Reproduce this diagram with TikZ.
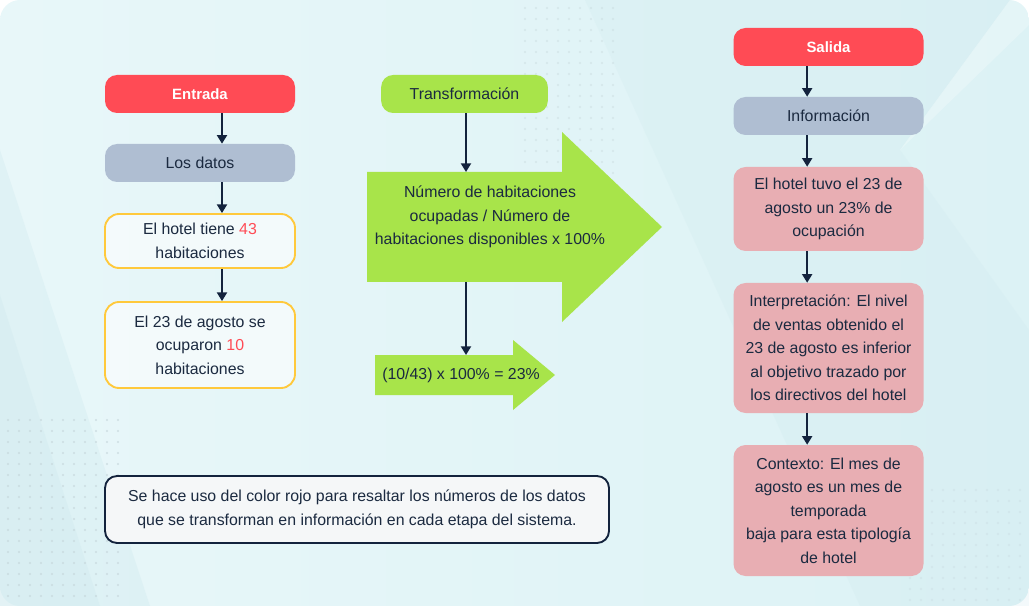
\documentclass[tikz,border=0pt]{standalone}
\usepackage{fontspec}
\setmainfont{Liberation Sans}
\usetikzlibrary{arrows.meta, positioning}

\definecolor{bgleft}{HTML}{E8F7F9}
\definecolor{bgright}{HTML}{DCF2F5}
\definecolor{bgdark}{HTML}{CFE9EE}
\definecolor{dotc}{HTML}{C3D3D8}
\definecolor{redc}{HTML}{FF4B55}
\definecolor{grayc}{HTML}{AFBED2}
\definecolor{greenc}{HTML}{A8E44A}
\definecolor{pinkc}{HTML}{E8AEB3}
\definecolor{yellowc}{HTML}{FFC93C}
\definecolor{textc}{HTML}{1B2A40}
\definecolor{arrowc}{HTML}{13233D}
\definecolor{notefill}{HTML}{F5F7F8}

\begin{document}
\begin{tikzpicture}[
    x=0.75pt, y=-0.75pt,
    font=\fontsize{11.9pt}{17.6pt}\selectfont,
    text=textc,
    arr/.style={-{Triangle[length=6.5pt, width=7.5pt]}, line width=1.5pt, draw=arrowc},
    box/.style={
        rectangle, rounded corners=9pt, align=center,
        minimum width=142.5pt, minimum height=28.5pt, inner sep=2pt
    },
    headbox/.style={box, fill=redc, text=white, font=\fontsize{11.2pt}{17.6pt}\selectfont\bfseries},
    graybox/.style={box, fill=grayc},
    databox/.style={box, draw=yellowc, line width=1.4pt, fill=white, fill opacity=0.55, text opacity=1, rounded corners=10.5pt},
    infobox/.style={box, fill=pinkc},
    notebox/.style={
        rectangle, rounded corners=9pt, draw=arrowc, line width=1.4pt,
        fill=notefill, align=center,
        minimum width=378pt, minimum height=50.25pt
    },
]

    % Fondo
    \useasboundingbox (0,0) rectangle (1029,606);
    \shade[left color=bgleft, right color=bgright, rounded corners=15pt] (0,0) rectangle (1029,606);
    \fill[bgdark, opacity=0.35] (0,150) -- (150,606) -- (0,606) -- cycle;
    \fill[bgdark, opacity=0.35] (0,295) -- (100,606) -- (0,606) -- cycle;
    \fill[bgdark, opacity=0.25] (585,0) -- (1010,0) -- (900,150) -- (1029,330) -- (1029,606) -- (860,606) -- cycle;
    \fill[white, opacity=0.25] (1010,0) -- (1029,0) -- (1029,25) -- (900,150) -- cycle;
    \foreach \i in {0,...,10} {
        \foreach \j in {0,...,16} {
            \fill[dotc, opacity=0.7] (8+11*\i, 420+11*\j) circle (1.2);
        }
    }
    \foreach \i in {0,...,8} {
        \foreach \j in {0,...,15} {
            \fill[dotc, opacity=0.45] (525+11*\i, 8+11*\j) circle (1.1);
        }
    }
    \foreach \i in {0,...,10} {
        \foreach \j in {0,...,10} {
            \fill[dotc, opacity=0.35] (910+11*\i, 490+11*\j) circle (1.1);
        }
    }

    % Entrada
    \node[headbox]                         (entrada) at (200,94)  {Entrada};
    \node[graybox]                         (datos)   at (200,163) {Los datos};
    \node[databox, minimum height=40.5pt]  (hotel)   at (200,241) {El hotel tiene \textcolor{redc}{43}\\habitaciones};
    \node[databox, minimum height=64.5pt]  (ocupa)   at (200,345) {El 23 de agosto se\\ocuparon \textcolor{redc}{10}\\habitaciones};

    \draw[arr] ([xshift=16.5pt] entrada.south) -- ([xshift=16.5pt] datos.north);
    \draw[arr] ([xshift=16.5pt] datos.south)   -- ([xshift=16.5pt] hotel.north);
    \draw[arr] ([xshift=16.5pt] hotel.south)   -- ([xshift=16.5pt] ocupa.north);

    % Transformación
    \node[box, fill=greenc, minimum width=125pt] (transf) at (464.5,94) {Transformación};
    \fill[greenc] (367,172) -- (562,172) -- (562,132) -- (662,227) -- (562,322)
        -- (562,282) -- (367,282) -- cycle;
    \fill[greenc] (375,355) -- (513,355) -- (513,340) -- (555,375) -- (513,410)
        -- (513,395) -- (375,395) -- cycle;
    \node[align=center] (formula) at (490,217)
        {Número de habitaciones\\ocupadas / Número de\\habitaciones disponibles x 100\%};
    \node[anchor=west, inner sep=0pt] (calculo) at (382,375) {(10/43) x 100\% = 23\%};
    \coordinate (bigtop)   at (466,172);
    \coordinate (bigbot)   at (466,282);
    \coordinate (smalltop) at (466,355);

    \draw[arr] (transf.south -| bigtop) -- (bigtop);
    \draw[arr] (bigbot) -- (smalltop);

    % Salida
    \node[headbox]                         (salida)   at (828.5,47)  {Salida};
    \node[graybox]                         (info)     at (828.5,116) {Información};
    \node[infobox, minimum height=63pt]    (tuvo)     at (828.5,209) {El hotel tuvo el 23 de\\agosto un 23\% de\\ocupación};
    \node[infobox, minimum height=97.5pt]  (interp)   at (828.5,348)
        {Interpretación: El nivel\\de ventas obtenido el\\23 de agosto es inferior\\al objetivo trazado por\\los directivos del hotel};
    \node[infobox, minimum height=98.25pt] (contexto) at (828.5,510.5)
        {Contexto: El mes de\\agosto es un mes de\\temporada\\baja para esta tipología\\de hotel};

    \draw[arr] ([xshift=-16pt] salida.south) -- ([xshift=-16pt] info.north);
    \draw[arr] ([xshift=-16pt] info.south)   -- ([xshift=-16pt] tuvo.north);
    \draw[arr] ([xshift=-16pt] tuvo.south)   -- ([xshift=-16pt] interp.north);
    \draw[arr] ([xshift=-16pt] interp.south) -- ([xshift=-16pt] contexto.north);

    % Nota
    \node[notebox] (nota) at (357,509.5)
        {Se hace uso del color rojo para resaltar los números de los datos\\que se transforman en información en cada etapa del sistema.};

\end{tikzpicture}
\end{document}
